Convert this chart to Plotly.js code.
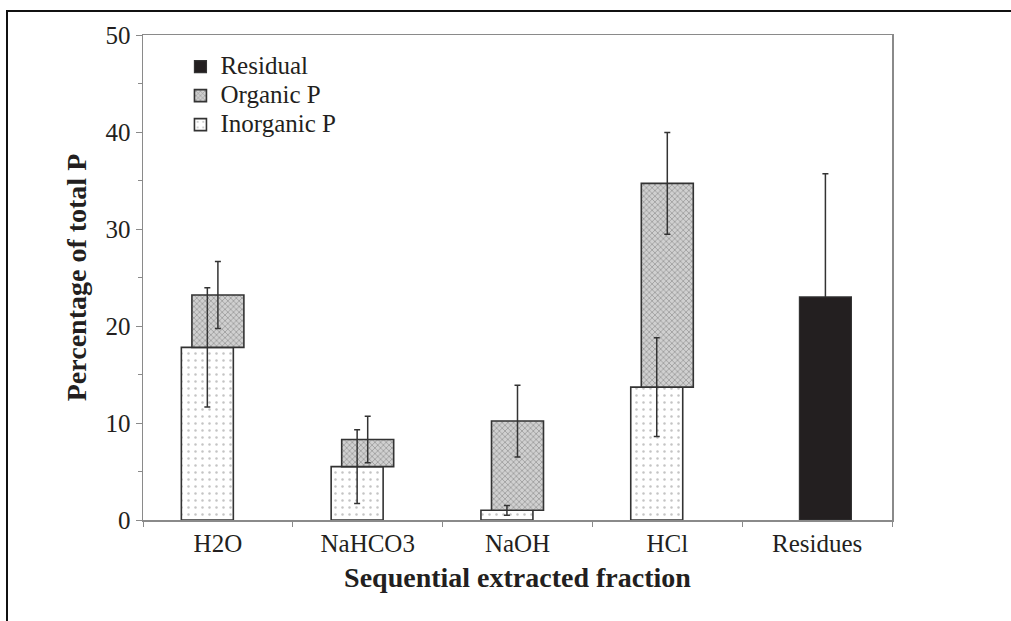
<!DOCTYPE html>
<html>
<head>
<meta charset="utf-8">
<script src="https://cdn.plot.ly/plotly-3.0.1.min.js"></script>
<style>
  html, body { margin: 0; padding: 0; background: #ffffff; }
  #wrap { position: relative; width: 1011px; height: 621px; overflow: hidden; }
  #chart { position: absolute; left: 0; top: 0; width: 1011px; height: 621px; }
  #frame { position: absolute; left: 6px; top: 10px; width: 1100px; height: 700px;
           border-left: 2.5px solid #111; border-top: 2.5px solid #111; pointer-events: none; }
</style>
</head>
<body>
<div id="wrap">
  <div id="chart"></div>
  <div id="frame"></div>
</div>
<script>
// ---- data ----
var categories   = ['H2O', 'NaHCO3', 'NaOH', 'HCl', 'Residues'];
var inorganicP   = [17.8, 5.5, 1.0, 13.7, null];
var inorganicErr = [6.15, 3.8, 0.5, 5.1, null];
var organicP     = [5.4, 2.8, 9.2, 21.0, null];   // stacked on top of inorganic P
var organicErr   = [3.45, 2.4, 3.7, 5.25, null];
var residualP    = [null, null, null, null, 23.0];
var residualErr  = [null, null, null, null, 12.7];
var seriesNames  = ['Inorganic P', 'Organic P', 'Residual'];
var yTicks       = [0, 10, 20, 30, 40, 50];

var serif = '"Liberation Serif", "Times New Roman", Times, serif';
var barW = 0.347;
var offInorg = -0.244, offOrg = -0.1735, offRes = -0.118;
function errStyle(arr) {
  return {type: 'data', visible: true, array: arr, color: '#333333', thickness: 1.5, width: 3};
}
function legendName(s) { return '<span style="font-size:25px">' + s + '</span>'; }
var clear = {color: 'rgba(0,0,0,0)', line: {width: 0}};

var traces = [
  { // inorganic P bars
    type: 'bar', name: legendName(seriesNames[0]), legendrank: 3, x: categories, y: inorganicP,
    width: barW, offset: offInorg,
    marker: {color: '#ffffff', line: {color: '#333333', width: 1.6},
             pattern: {shape: '.', fgcolor: '#c4c4c4', bgcolor: '#ffffff', size: 7, solidity: 0.1}}
  },
  { // organic P bars, stacked on inorganic
    type: 'bar', name: legendName(seriesNames[1]), legendrank: 2, x: categories, y: organicP, base: inorganicP,
    width: barW, offset: offOrg,
    marker: {color: '#c4c4c4', line: {color: '#333333', width: 1.6},
             pattern: {shape: 'x', fgcolor: '#8e8e8e', bgcolor: '#d0d0d0', size: 4, solidity: 0.3}}
  },
  { // residual error bar, lower half hidden under the bar
    type: 'bar', showlegend: false, x: categories, y: residualP,
    width: barW, offset: offRes, marker: clear, error_y: errStyle(residualErr)
  },
  { // residual bar
    type: 'bar', name: legendName(seriesNames[2]), legendrank: 1, x: categories, y: residualP,
    width: barW, offset: offRes,
    marker: {color: '#231f20', line: {color: '#333333', width: 1.2}}
  },
  { // inorganic error bars drawn above all bars
    type: 'bar', showlegend: false, x: categories, y: inorganicP,
    width: barW, offset: offInorg, marker: clear, error_y: errStyle(inorganicErr)
  },
  { // organic error bars drawn above all bars
    type: 'bar', showlegend: false, x: categories, y: organicP, base: inorganicP,
    width: barW, offset: offOrg, marker: clear, error_y: errStyle(organicErr)
  }
];

var layout = {
  width: 1011, height: 621,
  margin: {l: 143, r: 119, t: 35, b: 101, pad: 0},
  paper_bgcolor: '#ffffff', plot_bgcolor: '#ffffff',
  barmode: 'overlay',
  showlegend: true,
  font: {family: serif, color: '#231f20', size: 25},
  legend: {
    x: 0.05, y: 0.975, xanchor: 'left', yanchor: 'top',
    traceorder: 'normal', bgcolor: 'rgba(0,0,0,0)',
    font: {family: serif, size: 20, color: '#231f20'},
    itemclick: false, itemdoubleclick: false
  },
  xaxis: {
    type: 'category', range: [-0.5, 4.5],
    showline: true, linecolor: '#8a8a8a', linewidth: 1.5, mirror: true,
    ticks: 'outside', ticklen: 5, tickcolor: '#8a8a8a', tickwidth: 1,
    tickson: 'boundaries', showgrid: false, zeroline: false,
    tickfont: {family: serif, size: 25, color: '#231f20'},
    title: {text: '<b>Sequential extracted fraction</b>', standoff: 12,
            font: {family: serif, size: 28, color: '#231f20'}}
  },
  yaxis: {
    range: [0, 50], tickvals: yTicks, ticktext: yTicks.map(String),
    showline: true, linecolor: '#8a8a8a', linewidth: 1.5, mirror: true,
    ticks: 'outside', ticklen: 6, tickcolor: '#8a8a8a', tickwidth: 1,
    minor: {dtick: 5, ticks: 'outside', ticklen: 4, tickcolor: '#8a8a8a', showgrid: false},
    showgrid: false, zeroline: false,
    tickfont: {family: serif, size: 25, color: '#231f20'},
    title: {text: '<b>Percentage of total P</b>', standoff: 10,
            font: {family: serif, size: 28, color: '#231f20'}}
  }
};

Plotly.newPlot('chart', traces, layout, {displayModeBar: false, staticPlot: true});
</script>
</body>
</html>
